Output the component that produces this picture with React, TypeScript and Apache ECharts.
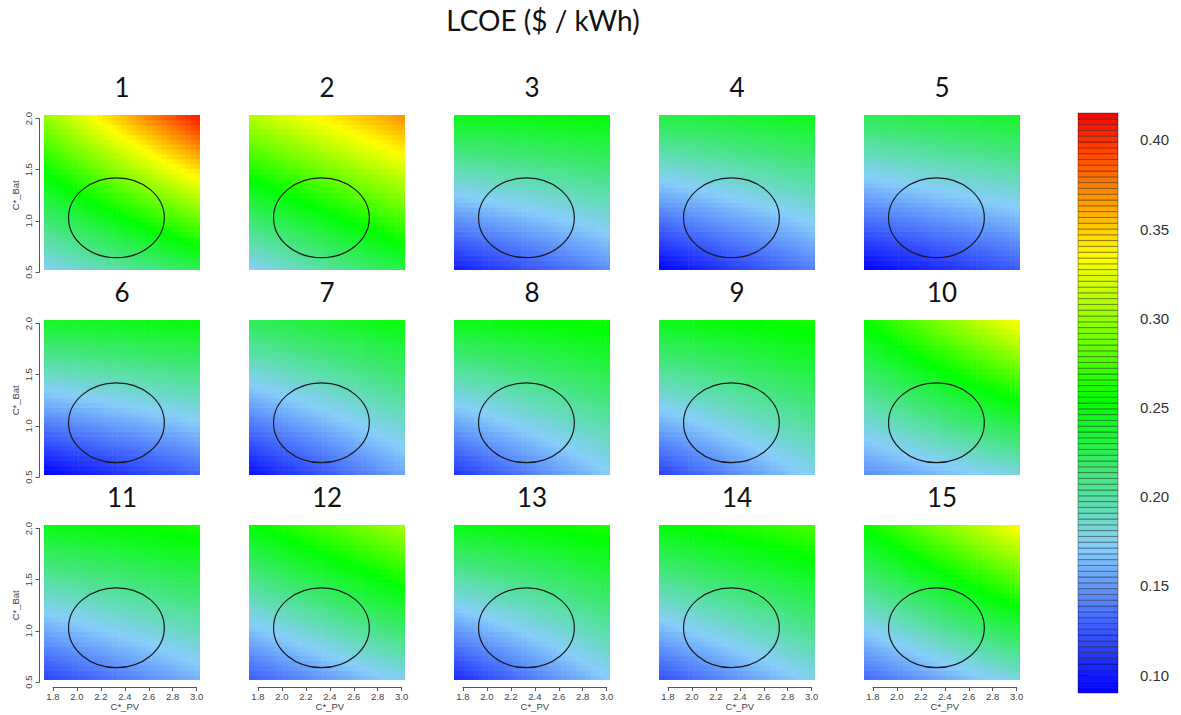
import React, { useEffect, useRef } from "react";
import * as echarts from "echarts";

// ---------- data ----------
const mainTitle = "LCOE ($ / kWh)";
const panelTitles = ["1", "2", "3", "4", "5", "6", "7", "8", "9", "10", "11", "12", "13", "14", "15"];

// LCOE ($/kWh) read at the four corners of every panel (C*_PV min/max, C*_Bat min/max)
const lcoeBottomLeft = [0.172, 0.17, 0.1, 0.09, 0.09, 0.09, 0.095, 0.11, 0.115, 0.145, 0.115, 0.125, 0.105, 0.12, 0.13];
const lcoeBottomRight = [0.225, 0.23, 0.146, 0.14, 0.125, 0.13, 0.155, 0.17, 0.175, 0.18, 0.16, 0.175, 0.17, 0.175, 0.18];
const lcoeTopLeft = [0.3, 0.31, 0.245, 0.23, 0.225, 0.24, 0.225, 0.245, 0.245, 0.255, 0.245, 0.25, 0.245, 0.25, 0.255];
const lcoeTopRight = [0.41, 0.37, 0.252, 0.245, 0.24, 0.25, 0.25, 0.258, 0.26, 0.335, 0.262, 0.305, 0.262, 0.275, 0.335];

const pvRange = [1.725, 3.028];
const batRange = [0.52, 2.035];
const pvAxis = { min: 1.8, max: 3.0, step: 0.2, name: "C*_PV" };
const batAxis = { min: 0.5, max: 2.0, step: 0.5, name: "C*_Bat" };

const ellipseCenter = [2.33, 1.03];
const ellipseRadii = [0.4, 0.39];

const colorMin = 0.09;
const colorMax = 0.415;
const colorTicks = [0.1, 0.15, 0.2, 0.25, 0.3, 0.35, 0.4];
const colorStops = ["#0000FF", "#87CEFA", "#00FF00", "#FFFF00", "#FF0000"];
const colorBandCount = 100;

// ---------- layout ----------
const PW = 156;
const PH = 155;
const colStep = 205;
const rowStep = 205;
const firstLeft = 44;
const firstTop = 115;
const cellsPerSide = 32;

const x2px = (v: number) => ((v - pvRange[0]) / (pvRange[1] - pvRange[0])) * PW;
const y2px = (v: number) => ((batRange[1] - v) / (batRange[1] - batRange[0])) * PH;

export default function App() {
  const ref = useRef<HTMLDivElement>(null);

  useEffect(() => {
    const chart = echarts.init(ref.current!, null, { renderer: "svg" });
    const grid: any[] = [];
    const xAxis: any[] = [];
    const yAxis: any[] = [];
    const series: any[] = [];
    const title: any[] = [];
    const colored: number[] = [];

    title.push({
      text: mainTitle,
      left: 543,
      top: 6,
      textAlign: "center",
      padding: 0,
      textStyle: { fontFamily: "Lato", fontSize: 28, fontWeight: "normal", color: "#111" },
    });

    const cellRender = (params: any, api: any) => {
      const p0 = api.coord([api.value(0), api.value(3)]);
      const p1 = api.coord([api.value(1), api.value(2)]);
      return {
        type: "rect",
        shape: { x: p0[0], y: p0[1], width: p1[0] - p0[0] + 0.6, height: p1[1] - p0[1] + 0.6 },
        style: { fill: api.visual("color") },
      };
    };
    const ellipseRender = (params: any, api: any) => {
      const c = api.coord([api.value(0), api.value(1)]);
      const s = api.size([api.value(2), api.value(3)]);
      return {
        type: "ellipse",
        shape: { cx: c[0], cy: c[1], rx: s[0], ry: s[1] },
        style: { fill: "none", stroke: "#1a1a1a", lineWidth: 1.2 },
      };
    };

    const axisFont = { fontFamily: "Liberation Sans", fontSize: 9.5, color: "#444" };

    for (let p = 0; p < 15; p++) {
      const r = Math.floor(p / 5);
      const c = p % 5;
      const L = firstLeft + colStep * c;
      const T = firstTop + rowStep * r;
      const gi = grid.length;
      grid.push({ left: L, top: T, width: PW, height: PH });
      xAxis.push({ type: "value", gridIndex: gi, min: pvRange[0], max: pvRange[1], show: false });
      yAxis.push({ type: "value", gridIndex: gi, min: batRange[0], max: batRange[1], show: false });

      const cells: number[][] = [];
      const dx = (pvRange[1] - pvRange[0]) / cellsPerSide;
      const dy = (batRange[1] - batRange[0]) / cellsPerSide;
      for (let i = 0; i < cellsPerSide; i++) {
        for (let j = 0; j < cellsPerSide; j++) {
          const u = (i + 0.5) / cellsPerSide;
          const v = (j + 0.5) / cellsPerSide;
          const bottom = lcoeBottomLeft[p] + (lcoeBottomRight[p] - lcoeBottomLeft[p]) * u;
          const top = lcoeTopLeft[p] + (lcoeTopRight[p] - lcoeTopLeft[p]) * u;
          const val = bottom + (top - bottom) * v;
          const x0 = pvRange[0] + i * dx;
          const y0 = batRange[0] + j * dy;
          cells.push([x0, x0 + dx, y0, y0 + dy, val]);
        }
      }
      series.push({
        type: "custom",
        xAxisIndex: gi,
        yAxisIndex: gi,
        data: cells,
        encode: { x: [0, 1], y: [2, 3] },
        renderItem: cellRender,
        clip: true,
        silent: true,
      });
      colored.push(series.length - 1);
      series.push({
        type: "custom",
        xAxisIndex: gi,
        yAxisIndex: gi,
        data: [[ellipseCenter[0], ellipseCenter[1], ellipseRadii[0], ellipseRadii[1]]],
        encode: { x: 0, y: 1 },
        renderItem: ellipseRender,
        silent: true,
      });

      title.push({
        text: panelTitles[p],
        left: L + PW / 2,
        top: T - 41,
        textAlign: "center",
        padding: 0,
        textStyle: { fontFamily: "Lato", fontSize: 26, fontWeight: "normal", color: "#111" },
      });

      // y axis on the first column
      if (c === 0) {
        const g = grid.length;
        grid.push({ left: L - 4.5, top: T + y2px(batAxis.max), width: 10, height: y2px(batAxis.min) - y2px(batAxis.max) });
        xAxis.push({ type: "value", gridIndex: g, min: 0, max: 1, show: false });
        yAxis.push({
          type: "value",
          gridIndex: g,
          min: batAxis.min,
          max: batAxis.max,
          interval: batAxis.step,
          position: "left",
          axisLine: { show: true, lineStyle: { color: "#555", width: 1 } },
          axisTick: { show: true, length: 4, lineStyle: { color: "#555" } },
          axisLabel: { ...axisFont, rotate: 90, margin: 6, formatter: (v: number) => v.toFixed(1) },
          splitLine: { show: false },
          name: batAxis.name,
          nameLocation: "middle",
          nameRotate: 90,
          nameGap: 19,
          nameTextStyle: { ...axisFont },
        });
      }
      // x axis on the last row
      if (r === 2) {
        const g = grid.length;
        grid.push({ left: L + x2px(pvAxis.min), top: T + PH - 3, width: x2px(pvAxis.max) - x2px(pvAxis.min), height: 10 });
        xAxis.push({
          type: "value",
          gridIndex: g,
          min: pvAxis.min,
          max: pvAxis.max,
          interval: pvAxis.step,
          position: "bottom",
          axisLine: { show: true, lineStyle: { color: "#555", width: 1 } },
          axisTick: { show: true, length: 4, lineStyle: { color: "#555" } },
          axisLabel: { ...axisFont, margin: 4, formatter: (v: number) => v.toFixed(1) },
          splitLine: { show: false },
          name: pvAxis.name,
          nameLocation: "middle",
          nameGap: 12,
          nameTextStyle: { ...axisFont },
        });
        yAxis.push({ type: "value", gridIndex: g, min: 0, max: 1, show: false });
      }
    }

    // colour bar
    const cg = grid.length;
    grid.push({ left: 1078, top: 113, width: 40, height: 580 });
    xAxis.push({ type: "value", gridIndex: cg, min: 0, max: 1, show: false });
    yAxis.push({
      type: "value",
      gridIndex: cg,
      min: colorMin,
      max: colorMax,
      position: "right",
      axisLine: { show: false },
      axisTick: { show: true, length: 10, customValues: colorTicks, lineStyle: { color: "#555" } },
      axisLabel: {
        customValues: colorTicks,
        margin: 22,
        fontFamily: "Liberation Sans",
        fontSize: 15,
        color: "#333",
        formatter: (v: number) => v.toFixed(2),
      },
      splitLine: { show: false },
    });
    const bands: number[][] = [];
    const bstep = (colorMax - colorMin) / colorBandCount;
    for (let k = 0; k < colorBandCount; k++) {
      const lo = colorMin + k * bstep;
      bands.push([0, 1, lo, lo + bstep, lo + bstep / 2]);
    }
    series.push({
      type: "custom",
      xAxisIndex: cg,
      yAxisIndex: cg,
      data: bands,
      encode: { x: [0, 1], y: [2, 3] },
      renderItem: (params: any, api: any) => {
        const p0 = api.coord([api.value(0), api.value(3)]);
        const p1 = api.coord([api.value(1), api.value(2)]);
        return {
          type: "rect",
          shape: { x: p0[0], y: p0[1], width: p1[0] - p0[0], height: p1[1] - p0[1] },
          style: { fill: api.visual("color"), stroke: "rgba(0,0,0,0.5)", lineWidth: 0.7 },
        };
      },
      silent: true,
    });
    colored.push(series.length - 1);

    chart.setOption({
      animation: false,
      backgroundColor: "#ffffff",
      title,
      grid,
      xAxis,
      yAxis,
      visualMap: {
        type: "continuous",
        show: false,
        min: colorMin,
        max: colorMax,
        dimension: 4,
        seriesIndex: colored,
        inRange: { color: colorStops },
      },
      series,
    });
    return () => chart.dispose();
  }, []);

  return (
    <div
      ref={ref}
      style={{ position: "fixed", left: 0, top: 0, width: 1181, height: 715, background: "#fff" }}
    />
  );
}
